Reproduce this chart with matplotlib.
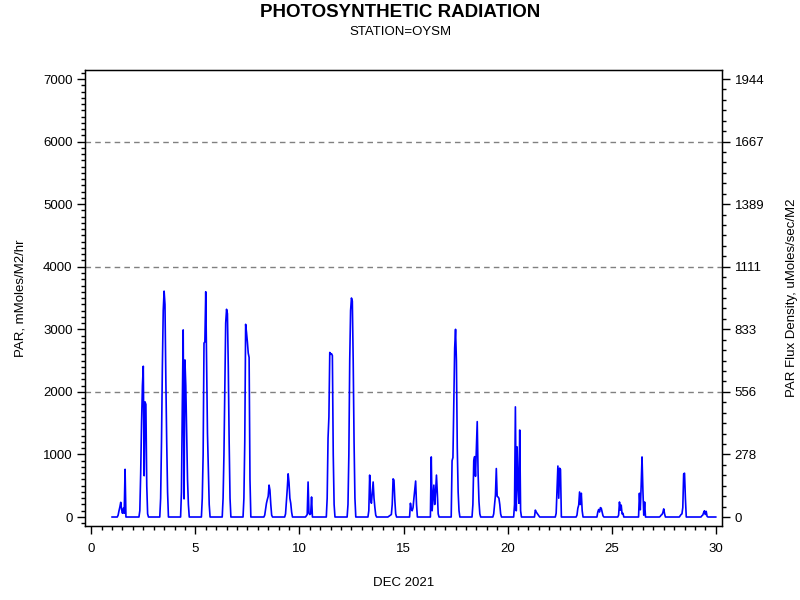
import numpy as np
import matplotlib
matplotlib.use("Agg")
import matplotlib.pyplot as plt
from matplotlib.ticker import MultipleLocator, FixedLocator

plt.rcParams['font.family'] = ['Liberation Sans', 'DejaVu Sans']

# hourly PAR (mMoles/M2/hr), hours 6..17 of each day; night hours are 0
first_hour = 6
day_profiles = [
    [0, 30, 100, 160, 235, 120, 60, 140, 60, 762, 0, 0],             # 1
    [0, 0, 100, 700, 1500, 2100, 2410, 660, 1840, 1800, 500, 50],    # 2
    [0, 0, 300, 1200, 2400, 3300, 3610, 3400, 2200, 1200, 400, 0],   # 3
    [0, 0, 400, 1800, 2990, 290, 2510, 2100, 1300, 600, 200, 0],     # 4
    [0, 0, 300, 1000, 2780, 2800, 3600, 2500, 1340, 800, 200, 0],    # 5
    [0, 0, 300, 1000, 2000, 3100, 3320, 3250, 2400, 1200, 300, 0],   # 6
    [0, 0, 300, 1200, 3080, 2950, 2800, 2620, 2550, 600, 0, 0],      # 7
    [0, 0, 30, 120, 220, 280, 330, 510, 430, 200, 30, 0],            # 8
    [0, 0, 50, 250, 450, 690, 550, 300, 220, 80, 0, 0],              # 9
    [0, 0, 20, 40, 560, 60, 40, 50, 320, 0, 0, 0],                   # 10
    [0, 0, 300, 1260, 1600, 2630, 2600, 2610, 2580, 1000, 200, 0],   # 11
    [0, 0, 200, 1000, 2500, 3300, 3500, 3450, 2500, 1200, 300, 0],   # 12
    [0, 0, 100, 670, 300, 220, 400, 560, 300, 150, 30, 0],           # 13
    [0, 10, 20, 30, 40, 200, 610, 590, 270, 50, 0, 0],               # 14
    [0, 0, 220, 130, 100, 150, 300, 430, 575, 200, 0, 0],            # 15
    [0, 0, 960, 100, 300, 510, 200, 400, 670, 380, 50, 0],           # 16
    [0, 0, 900, 950, 1800, 2700, 3000, 2500, 1100, 400, 100, 0],     # 17
    [0, 0, 200, 900, 965, 650, 1100, 1525, 700, 250, 50, 0],         # 18
    [0, 0, 50, 200, 350, 775, 330, 320, 300, 200, 50, 0],            # 19
    [0, 0, 200, 1760, 100, 1120, 500, 220, 1390, 100, 0, 0],         # 20
    [0, 0, 110, 80, 60, 40, 20, 0, 0, 0, 0, 0],                      # 21
    [0, 0, 60, 430, 815, 300, 780, 760, 0, 0, 0, 0],                 # 22
    [0, 0, 30, 140, 190, 400, 200, 380, 100, 0, 0, 0],               # 23
    [0, 0, 80, 120, 80, 150, 140, 80, 20, 0, 0, 0],                  # 24
    [0, 0, 30, 240, 110, 190, 50, 60, 0, 0, 0, 0],                   # 25
    [0, 0, 380, 115, 500, 960, 430, 30, 240, 0, 0, 0],               # 26
    [0, 0, 10, 30, 40, 70, 130, 50, 0, 0, 0, 0],                     # 27
    [0, 20, 40, 50, 150, 690, 700, 300, 0, 0, 0, 0],                 # 28
    [0, 0, 20, 30, 70, 100, 40, 90, 10, 0, 0, 0],                    # 29
]
first_day = 1

right_labels = ['0', '278', '556', '833', '1111', '1389', '1667', '1944']

# build the hourly series (day of month as x)
n_days = len(day_profiles)
par = np.zeros(n_days * 24 + 1)
for d, prof in enumerate(day_profiles):
    start = d * 24 + first_hour
    par[start:start + len(prof)] = prof
days = first_day + np.arange(len(par)) / 24.0

fig = plt.figure(figsize=(8, 6), dpi=100)
ax = fig.add_axes([0.10625, 0.1233, 0.79625, 0.76])

for g in [2000, 4000, 6000]:
    ax.axhline(g, color='#808080', linestyle=(0, (4, 3)), linewidth=1, zorder=1)

ax.plot(days, par, color='#0000FF', linewidth=1.2, zorder=3)

ax.set_xlim(-0.3, 30.3)
ax.set_ylim(-144, 7144)
ax.xaxis.set_major_locator(MultipleLocator(5))
ax.xaxis.set_minor_locator(MultipleLocator(0.5))
ax.yaxis.set_major_locator(MultipleLocator(1000))
ax.yaxis.set_minor_locator(MultipleLocator(100))
ax.tick_params(which='major', direction='out', length=6, width=1, labelsize=9.5)
ax.tick_params(which='minor', direction='out', length=3, width=1)
ax.tick_params(axis='x', which='major', pad=6)
ax.tick_params(axis='y', which='major', pad=3)
for s in ax.spines.values():
    s.set_linewidth(1)

ax2 = ax.twinx()
ax2.set_ylim(ax.get_ylim())
ax2.yaxis.set_major_locator(FixedLocator(np.arange(0, 7001, 1000)))
ax2.set_yticklabels(right_labels)
ax2.yaxis.set_minor_locator(MultipleLocator(1000 / 6))
ax2.tick_params(which='major', direction='out', length=6, width=1, labelsize=9.5, pad=3)
ax2.tick_params(which='minor', direction='out', length=3, width=1)

ax.set_xlabel('DEC 2021', fontsize=9.5, labelpad=16)
ax.set_ylabel('PAR, mMoles/M2/hr', fontsize=9.5, labelpad=12)
ax2.set_ylabel('PAR Flux Density, uMoles/sec/M2', fontsize=9.5, labelpad=16)

fig.text(0.5, 0.993, 'PHOTOSYNTHETIC RADIATION', ha='center', va='top',
         fontsize=13.5, fontweight='bold')
fig.text(0.5, 0.957, 'STATION=OYSM', ha='center', va='top', fontsize=9.5)

fig.savefig('out.png', dpi=100)
